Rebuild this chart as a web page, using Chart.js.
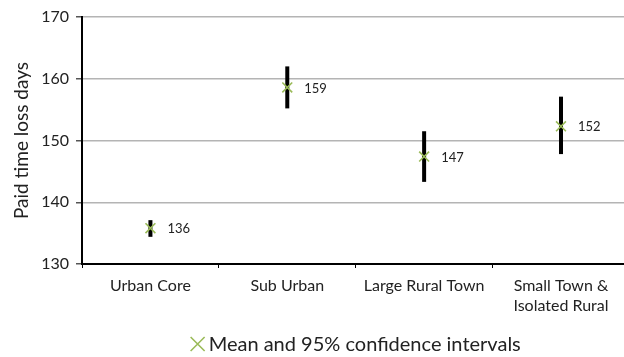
<!DOCTYPE html>
<html>
<head>
<meta charset="utf-8">
<script src="https://cdn.jsdelivr.net/npm/chart.js@4/dist/chart.umd.min.js"></script>
<style>
  html, body { margin: 0; padding: 0; background: #fff; overflow: hidden; }
  canvas { display: block; }
</style>
</head>
<body>
<canvas id="c" width="638" height="357"></canvas>
<script>
// Paid time loss days by remoteness category
const categories = ['Urban Core', 'Sub Urban', 'Large Rural Town', ['Small Town &', 'Isolated Rural']];
const means = [135.8, 158.6, 147.4, 152.3];
const ciLow = [134.4, 155.2, 143.3, 147.8];
const ciHigh = [137.1, 162.0, 151.5, 157.1];
const yTicks = [130, 140, 150, 160, 170];
const legendText = 'Mean and 95% confidence intervals';

const FONT = 'Lato, "Open Sans", sans-serif';
const GREEN = '#9bbb59';
const TEXT = '#222';

// vertical confidence-interval bars, drawn under the markers
const ciBars = {
  id: 'ciBars',
  beforeDatasetsDraw(chart) {
    const { ctx, scales: { x, y } } = chart;
    ctx.save();
    ctx.strokeStyle = '#000';
    ctx.lineWidth = 4;
    ctx.lineCap = 'butt';
    for (let i = 0; i < means.length; i++) {
      const px = x.getPixelForValue(i);
      ctx.beginPath();
      ctx.moveTo(px, y.getPixelForValue(ciHigh[i]));
      ctx.lineTo(px, y.getPixelForValue(ciLow[i]));
      ctx.stroke();
    }
    ctx.restore();
  }
};

// value labels beside each mean, plus the legend centred under the plot
const labelsAndLegend = {
  id: 'labelsAndLegend',
  afterDatasetsDraw(chart) {
    const { ctx, scales: { x, y }, chartArea } = chart;
    ctx.save();
    ctx.fillStyle = TEXT;
    ctx.font = '13px ' + FONT;
    ctx.textAlign = 'left';
    ctx.textBaseline = 'middle';
    for (let i = 0; i < means.length; i++) {
      ctx.fillText(means[i].toFixed(0), x.getPixelForValue(i) + 17, y.getPixelForValue(means[i]) + 1);
    }
    // legend
    ctx.font = '20px ' + FONT;
    const tw = ctx.measureText(legendText).width;
    const markW = 18;
    const total = markW + tw;
    const cx = (chartArea.left + chartArea.right) / 2;
    const x0 = cx - total / 2;
    const ly = 344;
    ctx.strokeStyle = GREEN;
    ctx.lineWidth = 1.6;
    const r = 7;
    const mx = x0 + 7;
    ctx.beginPath();
    ctx.moveTo(mx - r, ly - r); ctx.lineTo(mx + r, ly + r);
    ctx.moveTo(mx - r, ly + r); ctx.lineTo(mx + r, ly - r);
    ctx.stroke();
    ctx.fillStyle = TEXT;
    ctx.fillText(legendText, x0 + markW, ly + 1);
    ctx.restore();
  }
};

new Chart(document.getElementById('c'), {
  type: 'line',
  data: {
    labels: categories,
    datasets: [{
      label: legendText,
      data: means,
      showLine: false,
      pointStyle: 'crossRot',
      pointRadius: 7,
      pointHoverRadius: 7,
      pointBorderWidth: 1.6,
      borderColor: GREEN,
      backgroundColor: GREEN
    }]
  },
  options: {
    responsive: false,
    animation: false,
    events: [],
    layout: { padding: { top: 17, left: 0, right: 0, bottom: 0 } },
    plugins: {
      legend: { display: false },
      tooltip: { enabled: false }
    },
    scales: {
      x: {
        type: 'category',
        offset: true,
        border: { display: true, color: '#000', width: 2 },
        grid: {
          offset: true,
          drawOnChartArea: false,
          drawTicks: true,
          tickLength: 4,
          tickColor: '#000',
          tickWidth: 1
        },
        ticks: {
          color: TEXT,
          font: { family: FONT, size: 16, lineHeight: 1.3 },
          padding: 7,
          maxRotation: 0,
          autoSkip: false
        },
        afterFit(scale) { scale.height = 93; }
      },
      y: {
        min: 130,
        max: 170,
        afterBuildTicks(scale) { scale.ticks = yTicks.map(v => ({ value: v })); },
        border: { display: true, color: '#000', width: 2 },
        grid: {
          color: '#b4b4b4',
          lineWidth: 1.5,
          tickColor: '#555',
          tickLength: 6
        },
        ticks: {
          color: TEXT,
          font: { family: FONT, size: 16 },
          padding: 7
        },
        title: {
          display: true,
          text: 'Paid time loss days',
          color: TEXT,
          font: { family: FONT, size: 19 },
          padding: { top: 10, bottom: 0 }
        },
        afterFit(scale) { scale.width = 82; }
      }
    }
  },
  plugins: [ciBars, labelsAndLegend]
});
</script>
</body>
</html>
